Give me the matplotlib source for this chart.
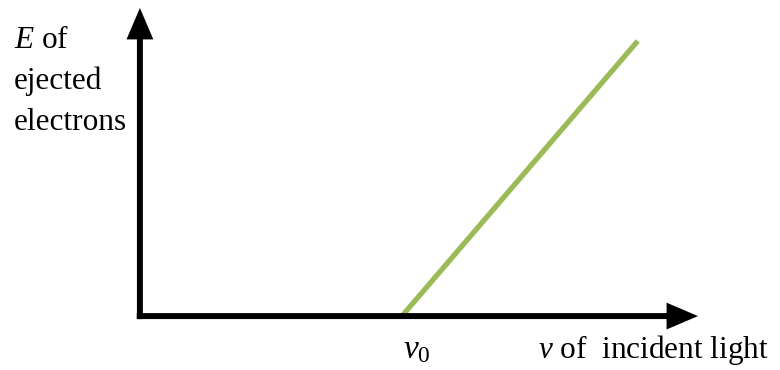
import matplotlib
matplotlib.use("Agg")
import matplotlib.pyplot as plt

plt.rcParams['font.family'] = ['Liberation Serif', 'DejaVu Serif']
plt.rcParams['mathtext.fontset'] = 'custom'
plt.rcParams['mathtext.rm'] = 'Liberation Serif'
plt.rcParams['mathtext.it'] = 'Liberation Serif:italic'

# data: frequency (relative to threshold nu0) vs kinetic energy
nu = [1.0, 1.9]
energy = [0.0, 1.0]
x_axis_end = 2.13
y_axis_end = 1.12

y_label_lines = ['$E$ of', 'ejected', 'electrons']
x_label = r'$\nu$ of  incident light'
nu0_label = r'$\nu_0$'

fig = plt.figure(figsize=(7.8, 3.7), dpi=100)
ax = fig.add_axes([0, 0, 1, 1])
ax.set_xlim(-0.534, 2.443)
ax.set_ylim(-0.196, 1.149)
ax.axis('off')

# axes drawn as thick arrows
arrow = dict(arrowstyle='-|>,head_length=0.75,head_width=0.32',
             color='black', lw=4.3, mutation_scale=20,
             shrinkA=0, shrinkB=0, joinstyle='miter', capstyle='butt')
ax.annotate('', xy=(x_axis_end, 0), xytext=(-0.012, 0), arrowprops=arrow)
ax.annotate('', xy=(0, y_axis_end), xytext=(0, -0.011), arrowprops=arrow)

ax.plot(nu, energy, color='#9BBB59', lw=3.8, solid_capstyle='butt')

# labels
ys = [48, 89, 130]
for txt, yb in zip(y_label_lines, ys):
    fig.text(14 / 780, 1 - yb / 370, txt, fontsize=22.5, va='baseline', ha='left')
fig.text(538 / 780, 1 - 358 / 370, x_label, fontsize=22.5, va='baseline', ha='left')
fig.text(403 / 780, 1 - 358 / 370, nu0_label, fontsize=24, va='baseline', ha='left')

fig.savefig('out.png', dpi=100)
